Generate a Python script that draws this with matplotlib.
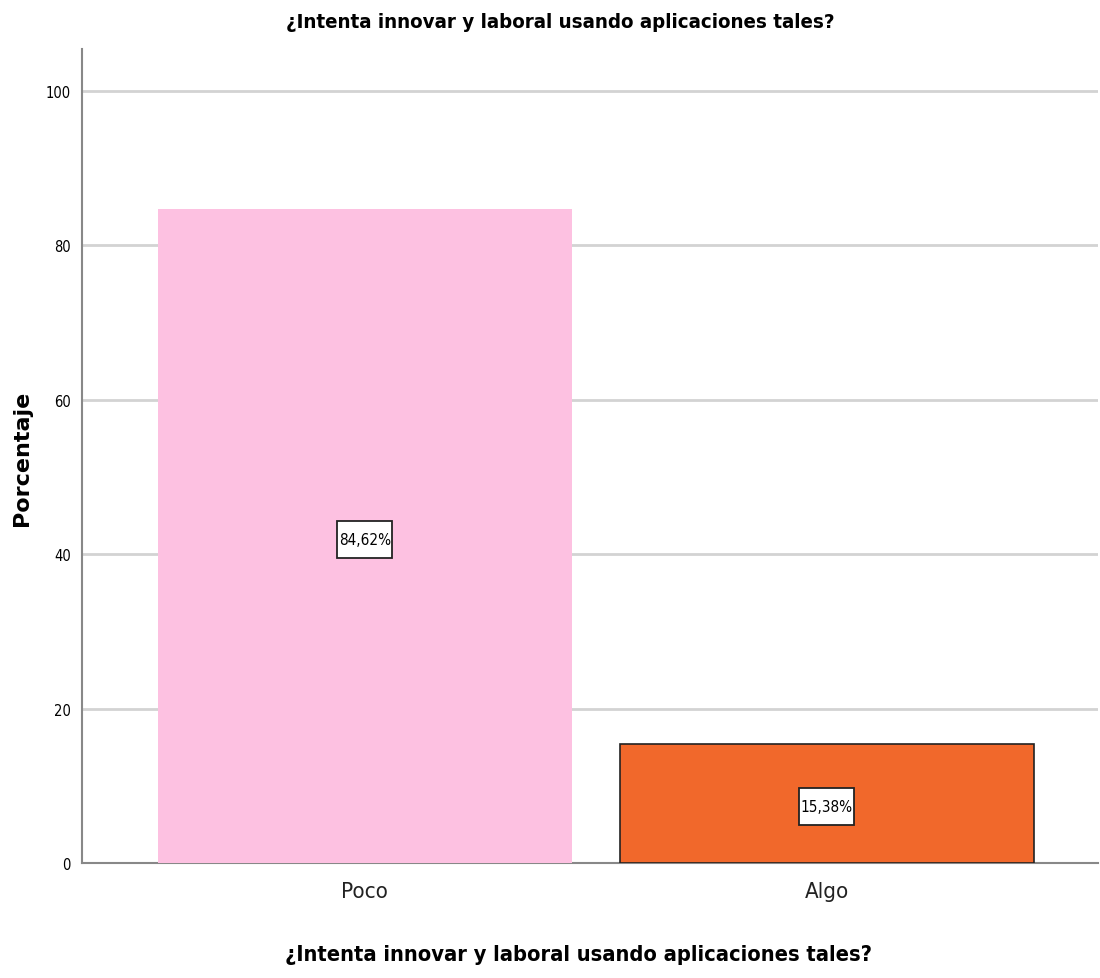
import matplotlib
matplotlib.use("Agg")
import matplotlib.pyplot as plt
import matplotlib.transforms as mtransforms
from matplotlib.patches import Rectangle

categories = ["Poco", "Algo"]
values = [84.62, 15.38]
value_labels = ["84,62%", "15,38%"]
yticks = [0, 20, 40, 60, 80, 100]
title = "¿Intenta innovar y laboral usando aplicaciones tales?"

plt.rcParams["font.family"] = ["DejaVu Sans"]
plt.rcParams["font.stretch"] = "condensed"

fig = plt.figure(figsize=(11, 9.79), dpi=100)
ax = fig.add_axes([0.0745, 0.1175, 0.9235, 0.8315])

colors = ["#FDC1E1", "#F1682B"]
edges = ["none", "#222222"]
pos = list(range(len(categories)))
for p, v, c, e in zip(pos, values, colors, edges):
    ax.bar(p, v, width=0.896, color=c, edgecolor=e, linewidth=1.2, zorder=3)

for p, v, lab in zip(pos, values, value_labels):
    tr = fig.dpi_scale_trans + mtransforms.ScaledTranslation(p, v / 2, ax.transData)
    ax.add_patch(Rectangle((-0.275, -0.215), 0.55, 0.37, transform=tr, facecolor="white",
                           edgecolor="#222222", linewidth=1.3, zorder=4, clip_on=False))
    ax.text(0, -0.03, lab, ha="center", va="center", fontsize=11, zorder=5, transform=tr)

ax.set_xlim(-0.6126, 1.5866)
ax.set_ylim(0, 105.4)
ax.set_yticks(yticks)
ax.set_yticklabels([str(t) for t in yticks], fontsize=10.5)
ax.set_xticks(pos)
ax.set_xticklabels(categories, fontsize=16, color="#222222")
ax.tick_params(axis="both", length=0, pad=8)
ax.tick_params(axis="x", pad=13)
ax.yaxis.grid(True, color="#d3d3d3", linewidth=2, zorder=0)
ax.set_axisbelow(True)
for s in ["top", "right"]:
    ax.spines[s].set_visible(False)
for s in ["left", "bottom"]:
    ax.spines[s].set_color("#888888")
    ax.spines[s].set_linewidth(1.5)

fig.text(22 / 1100, 1 - 458 / 979, "Porcentaje", rotation=90, ha="center", va="center",
         fontsize=16, fontweight="bold", family=["DejaVu Sans"], stretch="normal")
fig.text(578 / 1100, 1 - 955 / 979, title, ha="center", va="center", fontsize=15.7, fontweight="bold")
fig.text(560 / 1100, 1 - 22 / 979, title, ha="center", va="center", fontsize=14.7, fontweight="bold")

fig.savefig("out.png", dpi=100)
